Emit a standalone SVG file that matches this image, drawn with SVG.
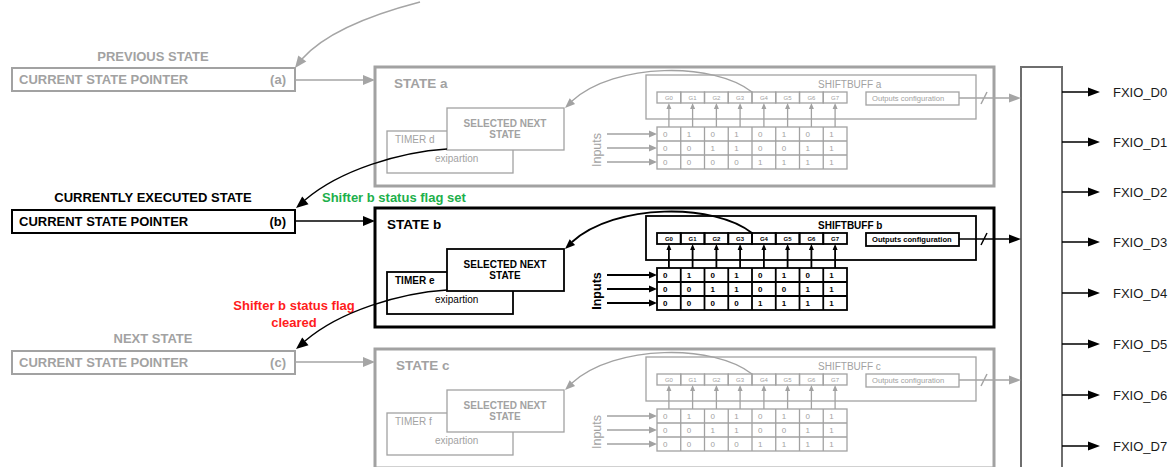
<svg xmlns="http://www.w3.org/2000/svg" xmlns:xlink="http://www.w3.org/1999/xlink" width="1175" height="467" viewBox="0 0 1175 467">
<style>
  text { font-family: "Liberation Sans", Arial, sans-serif; }
  .gray { color: #a2a2a2; }
  .black { color: #000; }
  .frame { fill: #fff; stroke: currentColor; stroke-width: 3; }
  .box { fill: #fff; stroke: currentColor; }
  .line { fill: none; stroke: currentColor; }
  .ah { fill: currentColor; stroke: none; }
  .t { fill: currentColor; stroke: none; }
  .ptr { fill: #fff; stroke-width: 2; }
  .lbl { font-size: 13px; font-weight: bold; }
  .c-gray { stroke: #a5a5a5; fill: none; stroke-width: 1.5; }
  .c-black { stroke: #000; fill: none; stroke-width: 1.5; }
  .h-gray { fill: #a5a5a5; }
  .h-black { fill: #000; }
  .fx { font-size: 13px; fill: #1a1a1a; }
</style>
<defs>
  <g id="tpl">
    <rect class="frame" x="0" y="0" width="619" height="119"/>
    <rect class="box" x="12" y="64" width="126" height="42"/>
    <rect class="box" x="72" y="41" width="117" height="42"/>
    <rect class="line" x="271" y="8" width="330" height="44"/>
    <g class="line">
      <rect x="282" y="25" width="23.75" height="11"/>
      <rect x="305.75" y="25" width="23.75" height="11"/>
      <rect x="329.5" y="25" width="23.75" height="11"/>
      <rect x="353.25" y="25" width="23.75" height="11"/>
      <rect x="377" y="25" width="23.75" height="11"/>
      <rect x="400.75" y="25" width="23.75" height="11"/>
      <rect x="424.5" y="25" width="23.75" height="11"/>
      <rect x="448.25" y="25" width="23.75" height="11"/>
      <rect x="491" y="25" width="93" height="13"/>
      <rect x="282" y="60" width="190" height="42"/>
      <path d="M305.75,60V102M329.5,60V102M353.25,60V102M377,60V102M400.75,60V102M424.5,60V102M448.25,60V102M282,74H472M282,88H472"/>
      <path d="M293.9,60V41M317.6,60V41M341.4,60V41M365.1,60V41M388.9,60V41M412.6,60V41M436.4,60V41M460.1,60V41"/>
      <path d="M232,67H275M232,81H275M232,95H275"/>
      <path d="M377,25C340,-5 240,-5 197,34"/>
    </g>
    <g class="ah">
      <path d="M291.4,42L296.4,42L293.9,36Z M315.1,42L320.1,42L317.6,36Z M338.9,42L343.9,42L341.4,36Z M362.6,42L367.6,42L365.1,36Z M386.4,42L391.4,42L388.9,36Z M410.1,42L415.1,42L412.6,36Z M433.9,42L438.9,42L436.4,36Z M457.6,42L462.6,42L460.1,36Z"/>
      <path d="M274,63.5L282,67L274,70.5Z M274,77.5L282,81L274,84.5Z M274,91.5L282,95L274,98.5Z"/>
      <path d="M190,41L200.1,37.1L194.7,31.3Z"/>
    </g>
    <g class="t">
      <text x="130" y="60" font-size="10" font-weight="bold" text-anchor="middle">SELECTED NEXT</text>
      <text x="130" y="71" font-size="10" font-weight="bold" text-anchor="middle">STATE</text>
      <text x="60" y="95" font-size="10" font-weight="normal">exipartion</text>
      <text transform="translate(226,83) rotate(-90)" font-size="12.5" text-anchor="middle">Inputs</text>
      <text x="497" y="34" font-size="7.6">Outputs configuration</text>
      <g font-size="6" text-anchor="middle">
        <text x="293.9" y="33">G0</text><text x="317.6" y="33">G1</text><text x="341.4" y="33">G2</text><text x="365.1" y="33">G3</text>
        <text x="388.9" y="33">G4</text><text x="412.6" y="33">G5</text><text x="436.4" y="33">G6</text><text x="460.1" y="33">G7</text>
      </g>
      <g font-size="8">
        <text x="288" y="70">0</text><text x="311.75" y="70">1</text><text x="335.5" y="70">0</text><text x="359.25" y="70">1</text>
        <text x="383" y="70">0</text><text x="406.75" y="70">1</text><text x="430.5" y="70">0</text><text x="454.25" y="70">1</text>
        <text x="288" y="84">0</text><text x="311.75" y="84">0</text><text x="335.5" y="84">1</text><text x="359.25" y="84">1</text>
        <text x="383" y="84">0</text><text x="406.75" y="84">0</text><text x="430.5" y="84">1</text><text x="454.25" y="84">1</text>
        <text x="288" y="98">0</text><text x="311.75" y="98">0</text><text x="335.5" y="98">0</text><text x="359.25" y="98">0</text>
        <text x="383" y="98">1</text><text x="406.75" y="98">1</text><text x="430.5" y="98">1</text><text x="454.25" y="98">1</text>
      </g>
    </g>
  </g>
</defs>

<rect width="1175" height="467" fill="#fff"/>

<!-- Pointer nodes -->
<g id="pointer-a" class="gray">
  <text class="lbl t" x="153" y="60.5" text-anchor="middle">PREVIOUS STATE</text>
  <rect class="ptr" x="12" y="68" width="283" height="23" stroke="currentColor"/>
  <text class="lbl t" x="19" y="84">CURRENT STATE POINTER</text>
  <text class="lbl t" x="286" y="84" text-anchor="end">(a)</text>
</g>
<g id="pointer-b" class="black">
  <text class="lbl t" x="153" y="201.5" text-anchor="middle">CURRENTLY EXECUTED STATE</text>
  <rect class="ptr" x="12" y="210" width="283" height="23" stroke="currentColor"/>
  <text class="lbl t" x="19" y="226">CURRENT STATE POINTER</text>
  <text class="lbl t" x="286" y="226" text-anchor="end">(b)</text>
</g>
<g id="pointer-c" class="gray">
  <text class="lbl t" x="153" y="342.5" text-anchor="middle">NEXT STATE</text>
  <rect class="ptr" x="12" y="351" width="283" height="23" stroke="currentColor"/>
  <text class="lbl t" x="19" y="367">CURRENT STATE POINTER</text>
  <text class="lbl t" x="286" y="367" text-anchor="end">(c)</text>
</g>

<!-- State nodes -->
<g id="state-a" class="gray" transform="translate(375,67)">
  <use xlink:href="#tpl" href="#tpl" stroke-width="1.3"/>
  <text class="t" x="19" y="21" font-size="13.5" font-weight="bold">STATE a</text>
  <text class="t" x="20" y="76" font-size="10">TIMER d</text>
  <text class="t" x="443" y="21" font-size="10">SHIFTBUFF a</text>
</g>
<g id="state-b" class="black" transform="translate(375,208)">
  <use xlink:href="#tpl" href="#tpl" stroke-width="1.8" font-weight="bold"/>
  <text class="t" x="12" y="21" font-size="13.5" font-weight="bold">STATE b</text>
  <text class="t" x="20" y="76" font-size="10" font-weight="bold">TIMER e</text>
  <text class="t" x="443" y="21" font-size="10" font-weight="bold">SHIFTBUFF b</text>
</g>
<g id="state-c" class="gray" transform="translate(375,349)">
  <use xlink:href="#tpl" href="#tpl" stroke-width="1.3"/>
  <text class="t" x="21" y="21" font-size="13.5" font-weight="bold">STATE c</text>
  <text class="t" x="20" y="76" font-size="10">TIMER f</text>
  <text class="t" x="443" y="21" font-size="10">SHIFTBUFF c</text>
</g>

<!-- Output pin block -->
<g id="pin-mux">
  <rect x="1021" y="67" width="41" height="412" fill="#fff" stroke="#6e6e6e" stroke-width="2"/>
</g>

<!-- Pin labels -->
<g id="pins">
  <text class="fx" x="1113" y="96.5">FXIO_D0</text>
  <text class="fx" x="1113" y="146.5">FXIO_D1</text>
  <text class="fx" x="1113" y="196.5">FXIO_D2</text>
  <text class="fx" x="1113" y="246.5">FXIO_D3</text>
  <text class="fx" x="1113" y="297.5">FXIO_D4</text>
  <text class="fx" x="1113" y="348.5">FXIO_D5</text>
  <text class="fx" x="1113" y="399.5">FXIO_D6</text>
  <text class="fx" x="1113" y="450.5">FXIO_D7</text>
</g>

<!-- Connector labels -->
<g id="labels">
  <text class="lbl" x="322" y="202" fill="#1db04b">Shifter b status flag set</text>
  <text class="lbl" x="294" y="310" fill="#ff1c1c" text-anchor="middle">Shifter b status flag</text>
  <text class="lbl" x="294" y="327" fill="#ff1c1c" text-anchor="middle">cleared</text>
</g>

<!-- Connectors -->
<g id="connectors">
  <path class="c-gray" d="M295,80H363"/>
  <path class="h-gray" d="M363,75L375,80L363,85Z"/>
  <path class="c-black" d="M295,221H363"/>
  <path class="h-black" d="M363,216L375,221L363,226Z"/>
  <path class="c-gray" d="M295,362H363"/>
  <path class="h-gray" d="M363,357L375,362L363,367Z"/>

  <path class="c-gray" d="M420,2C370,15 325,33 302,59"/>
  <path class="h-gray" d="M295,68L306.3,61.6L298.3,55.4Z"/>
  <path class="c-black" d="M447,149C400,152 340,170 305,200"/>
  <path class="h-black" d="M296,208L308.5,204.3L302.2,196.5Z"/>
  <path class="c-black" d="M447,290C400,293 340,311 305,341"/>
  <path class="h-black" d="M296,349L308.5,345.3L302.2,337.5Z"/>

  <path class="c-gray" d="M959,98H1009M981,104L987,92"/>
  <path class="h-gray" d="M1009,93.5L1021,98L1009,102.5Z"/>
  <path class="c-black" d="M959,239H1009M981,245L987,233"/>
  <path class="h-black" d="M1009,234.5L1021,239L1009,243.5Z"/>
  <path class="c-gray" d="M959,380H1009M981,386L987,374"/>
  <path class="h-gray" d="M1009,375.5L1021,380L1009,384.5Z"/>

  <path class="c-black" d="M1062,92H1088M1062,142H1088M1062,192H1088M1062,242H1088M1062,293H1088M1062,344H1088M1062,395H1088M1062,446H1088"/>
  <path class="h-black" d="M1088,87.5L1100,92L1088,96.5Z M1088,137.5L1100,142L1088,146.5Z M1088,187.5L1100,192L1088,196.5Z M1088,237.5L1100,242L1088,246.5Z M1088,288.5L1100,293L1088,297.5Z M1088,339.5L1100,344L1088,348.5Z M1088,390.5L1100,395L1088,399.5Z M1088,441.5L1100,446L1088,450.5Z"/>
</g>
</svg>
